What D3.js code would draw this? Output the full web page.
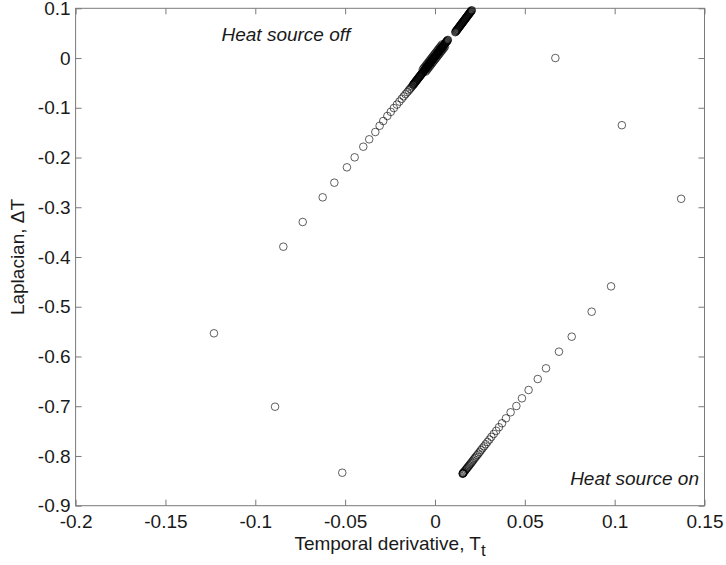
<!DOCTYPE html>
<html>
<head>
<meta charset="utf-8">
<script src="https://cdn.jsdelivr.net/npm/d3@7/dist/d3.min.js"></script>
<style>
  html, body { margin: 0; padding: 0; background: #fff; }
  svg { display: block; }
  text { font-family: "Liberation Sans", Arial, Helvetica, sans-serif; }
</style>
</head>
<body>
<svg id="chart" width="726" height="565"></svg>
<script>
// ---------------- data ----------------
const xTicks = [-0.2, -0.15, -0.1, -0.05, 0, 0.05, 0.1, 0.15];
const yTicks = [0.1, 0, -0.1, -0.2, -0.3, -0.4, -0.5, -0.6, -0.7, -0.8, -0.9];
const xLabel = "Temporal derivative, T";
const xLabelSub = "t";
const yLabel = "Laplacian, \u0394T";
const noteOff = "Heat source off";
const noteOn = "Heat source on";

// isolated points
const outlierX = [-0.1230, -0.0890, -0.0516, 0.067, 0.104, 0.137, 0.098];
const outlierY = [-0.5534, -0.7010, -0.8337, 0.000, -0.135, -0.283, -0.459];

// upper branch (heat source off), outer sparse part
const upperOuterX = [-0.0844, -0.0736, -0.0625, -0.0560, -0.0490, -0.0447, -0.0399, -0.0366, -0.0332, -0.0308, -0.0288, -0.0265,
  -0.0246, -0.0229, -0.0212, -0.0198, -0.0185, -0.0174, -0.0164, -0.0154, -0.0146, -0.0139, -0.0132, -0.0127];
const upperOuterY = [-0.3793, -0.3296, -0.2800, -0.2506, -0.2197, -0.1996, -0.1783, -0.1634, -0.1487, -0.1362, -0.1266, -0.1165,
  -0.1082, -0.1006, -0.0936, -0.0875, -0.0819, -0.0770, -0.0726, -0.0686, -0.0650, -0.0620, -0.0592, -0.0567];

// upper branch dense part (below the small gap)
const upperDenseX = [-0.0122,-0.0120,-0.0118,-0.0116,-0.0114,-0.0112,-0.0110,-0.0108,-0.0106,-0.0104,-0.0102,-0.0100,-0.0098,-0.0096,-0.0094,-0.0092,-0.0090,-0.0088,-0.0086,-0.0084,-0.0082,-0.0080,-0.0078,-0.0076,-0.0074,-0.0072,-0.0070,-0.0068,-0.0066,-0.0064,-0.0062,-0.0060,-0.0058,-0.0056,-0.0054,-0.0052,-0.0050,-0.0048,-0.0046,-0.0044,-0.0042,-0.0040,-0.0038,-0.0036,-0.0034,-0.0032,-0.0030,-0.0028,-0.0026,-0.0024,-0.0022,-0.0020,-0.0018,-0.0016,-0.0014,-0.0012,-0.0010,-0.0008,-0.0006,-0.0004,-0.0002,0.0000,0.0002,0.0004,0.0006,0.0008,0.0010,0.0012,0.0014,0.0016,0.0018,0.0020,0.0022,0.0024,0.0026,0.0028,0.0030,0.0032,0.0034,0.0036,0.0038,0.0040,0.0042,0.0044,0.0046,0.0048,0.0050,0.0052,0.0054,0.0056,0.0058,0.0060,0.0062,0.0064,0.0066,0.0068,0.0070,0.0072];
const upperDenseY = [-0.0542,-0.0533,-0.0523,-0.0514,-0.0505,-0.0495,-0.0486,-0.0477,-0.0467,-0.0458,-0.0448,-0.0439,-0.0430,-0.0420,-0.0411,-0.0402,-0.0392,-0.0383,-0.0374,-0.0364,-0.0355,-0.0346,-0.0336,-0.0327,-0.0317,-0.0308,-0.0299,-0.0289,-0.0280,-0.0271,-0.0261,-0.0252,-0.0243,-0.0233,-0.0224,-0.0214,-0.0205,-0.0196,-0.0186,-0.0177,-0.0168,-0.0158,-0.0149,-0.0140,-0.0130,-0.0121,-0.0112,-0.0102,-0.0093,-0.0083,-0.0074,-0.0065,-0.0055,-0.0046,-0.0037,-0.0027,-0.0018,-0.0009,0.0001,0.0010,0.0019,0.0029,0.0038,0.0047,0.0057,0.0066,0.0075,0.0085,0.0094,0.0103,0.0113,0.0122,0.0132,0.0141,0.0150,0.0160,0.0169,0.0178,0.0188,0.0197,0.0206,0.0216,0.0225,0.0234,0.0244,0.0253,0.0263,0.0272,0.0281,0.0291,0.0300,0.0309,0.0319,0.0328,0.0337,0.0347,0.0356,0.0365];

// scatter on both sides of the dense band (it is wider in the middle)
const bandSideX = [-0.0052,-0.0046,-0.0040,-0.0034,-0.0028,-0.0022,-0.0016,-0.0010,-0.0004,0.0002,0.0008,0.0014,0.0020,0.0026,0.0032,0.0038,0.0044,0.0050,0.0056,
  -0.0068,-0.0062,-0.0056,-0.0050,-0.0044,-0.0038,-0.0032,-0.0026,-0.0020,-0.0014,-0.0008,-0.0002,0.0004,0.0010,0.0016,0.0022,0.0028,0.0034,0.0040];
const bandSideY = [-0.0274,-0.0246,-0.0218,-0.0190,-0.0162,-0.0134,-0.0105,-0.0077,-0.0049,-0.0021,0.0007,0.0035,0.0063,0.0091,0.0119,0.0147,0.0175,0.0203,0.0231,
  -0.0230,-0.0202,-0.0174,-0.0146,-0.0118,-0.0090,-0.0061,-0.0033,-0.0005,0.0023,0.0051,0.0079,0.0107,0.0135,0.0163,0.0191,0.0219,0.0247,0.0275];

// upper branch top part (above the small gap)
const upperTopX = [0.0113,0.0115,0.0117,0.0119,0.0121,0.0123,0.0125,0.0127,0.0129,0.0131,0.0133,0.0135,0.0137,0.0139,0.0141,0.0143,0.0145,0.0147,0.0149,0.0151,0.0153,0.0155,0.0157,0.0159,0.0161,0.0163,0.0165,0.0167,0.0169,0.0171,0.0173,0.0175,0.0177,0.0179,0.0181,0.0183,0.0185,0.0187,0.0189,0.0191,0.0193,0.0195,0.0197,0.0199,0.0201,0.0203,0.0205];
const upperTopY = [0.0519,0.0528,0.0538,0.0548,0.0557,0.0567,0.0576,0.0586,0.0596,0.0605,0.0615,0.0625,0.0634,0.0644,0.0653,0.0663,0.0673,0.0682,0.0692,0.0702,0.0711,0.0721,0.0730,0.0740,0.0750,0.0759,0.0769,0.0779,0.0788,0.0798,0.0807,0.0817,0.0827,0.0836,0.0846,0.0856,0.0865,0.0875,0.0884,0.0894,0.0904,0.0913,0.0923,0.0933,0.0942,0.0952,0.0961];

// lower branch (heat source on)
const lowerX = [0.0872,0.0761,0.0690,0.0618,0.0572,0.0521,0.0484,0.0453,0.0421,0.0395,0.0373,
  0.0356,0.0341,0.0327,0.0314,0.0303,0.0292,0.0282,0.0273,0.0264,0.0256,0.0249,0.0242,0.0235,0.0228,0.0222,0.0216,0.0211,0.0206,0.0201,0.0196,0.0191,0.0187,0.0182,0.0178,0.0174,0.0170,0.0166,0.0162,0.0159,0.0157,0.0156,0.0155,0.0154];
const lowerY = [-0.5100,-0.5602,-0.5904,-0.6238,-0.6453,-0.6674,-0.6841,-0.6996,-0.7122,-0.7243,-0.7343,
  -0.7422,-0.7494,-0.7557,-0.7616,-0.7670,-0.7719,-0.7765,-0.7808,-0.7847,-0.7884,-0.7919,-0.7952,-0.7984,-0.8014,-0.8042,-0.8069,-0.8095,-0.8119,-0.8142,-0.8165,-0.8187,-0.8207,-0.8228,-0.8247,-0.8266,-0.8285,-0.8303,-0.8320,-0.8336,-0.8344,-0.8350,-0.8354,-0.8358];

// ---------------- chart ----------------
const svg = d3.select("#chart");
const L = 75.6, R = 704.5, T = 8.3, B = 505.7;
const x = d3.scaleLinear().domain([-0.2, 0.15]).range([L, R]);
const y = d3.scaleLinear().domain([-0.9, 0.1]).range([B, T]);

const frameColor = "#7a7a7a";
const textColor = "#1a1a1a";
const fmt = v => String(+v.toFixed(2));

function styleAxis(g) {
  g.select(".domain").remove();
  g.selectAll(".tick line").attr("stroke", frameColor).attr("stroke-width", 1);
  g.selectAll(".tick text").attr("fill", textColor).style("font-size", "19px")
    .attr("font-family", "Liberation Sans, Arial, sans-serif");
}

svg.append("g").attr("transform", `translate(0,${B})`)
  .call(d3.axisBottom(x).tickValues(xTicks).tickFormat(fmt).tickSize(-6).tickPadding(9))
  .call(styleAxis);
svg.append("g").attr("transform", `translate(0,${T})`)
  .call(d3.axisTop(x).tickValues(xTicks).tickFormat("").tickSize(-6))
  .call(styleAxis);
svg.append("g").attr("transform", `translate(${L},0)`)
  .call(d3.axisLeft(y).tickValues(yTicks).tickFormat(fmt).tickSize(-6).tickPadding(5))
  .call(styleAxis);
svg.append("g").attr("transform", `translate(${R},0)`)
  .call(d3.axisRight(y).tickValues(yTicks).tickFormat("").tickSize(-6))
  .call(styleAxis);

svg.append("rect").attr("x", L).attr("y", T).attr("width", R - L).attr("height", B - T)
  .attr("fill", "none").attr("stroke", frameColor).attr("stroke-width", 1);

// points
const pts = [];
function addSeries(xs, ys) { xs.forEach((v, i) => pts.push([v, ys[i]])); }
addSeries(outlierX, outlierY);
addSeries(upperOuterX, upperOuterY);
addSeries(upperDenseX, upperDenseY);
addSeries(bandSideX, bandSideY);
addSeries(upperTopX, upperTopY);
addSeries(lowerX, lowerY);

svg.append("g").selectAll("circle").data(pts).join("circle")
  .attr("cx", d => x(d[0])).attr("cy", d => y(d[1])).attr("r", 3.8)
  .attr("fill", "none").attr("stroke", "#000").attr("stroke-opacity", 0.62).attr("stroke-width", 1);

// annotations
svg.append("text").attr("x", 221.5).attr("y", 40.5)
  .style("font-size", "19px").style("font-style", "italic").attr("fill", textColor).text(noteOff);
svg.append("text").attr("x", 699).attr("y", 485).attr("text-anchor", "end")
  .style("font-size", "19px").style("font-style", "italic").attr("fill", textColor).text(noteOn);

// axis labels
const xl = svg.append("text").attr("x", (L + R) / 2).attr("y", 550).attr("text-anchor", "middle")
  .style("font-size", "19px").attr("fill", textColor);
xl.append("tspan").text(xLabel);
xl.append("tspan").attr("dy", 6).style("font-size", "17px").text(xLabelSub);

svg.append("text").attr("transform", `translate(24,${(T + B) / 2}) rotate(-90)`)
  .attr("text-anchor", "middle").style("font-size", "19px").attr("fill", textColor).text(yLabel);
</script>
</body>
</html>
